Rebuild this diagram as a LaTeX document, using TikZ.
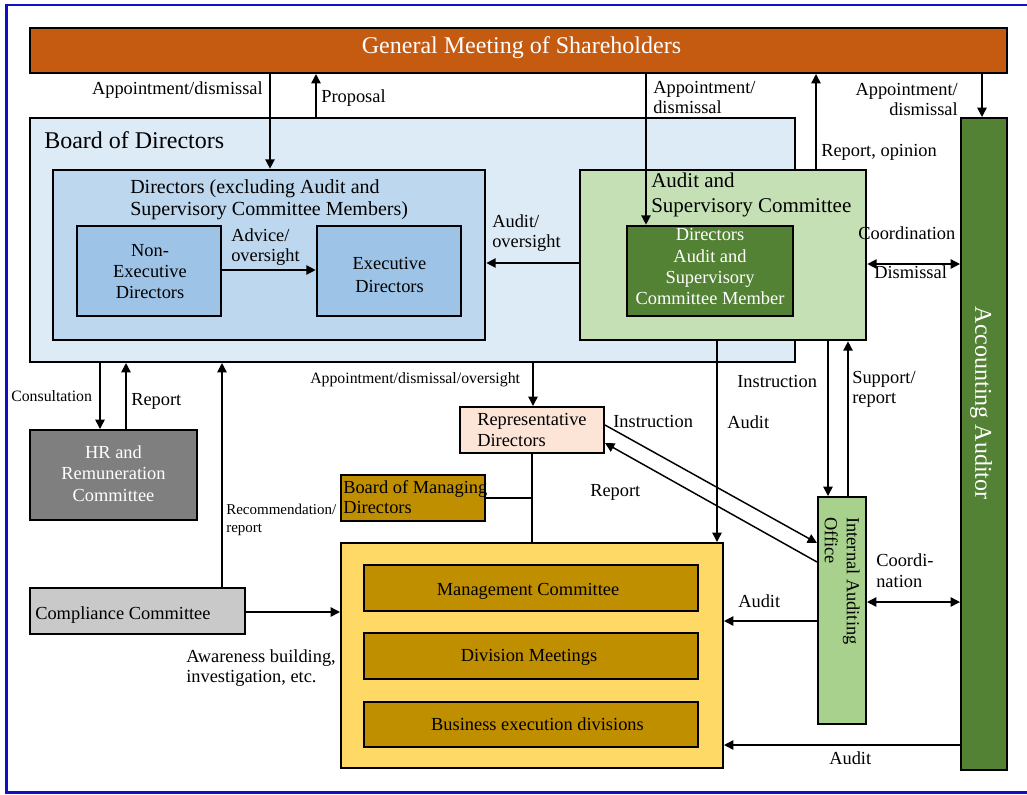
\documentclass[tikz,border=0pt]{standalone}
\usepackage{fontspec}
\setmainfont{Liberation Serif}
\usetikzlibrary{arrows.meta,fit}
\definecolor{gmc}{HTML}{C55A11}
\definecolor{boardc}{HTML}{DDEBF7}
\definecolor{dirc}{HTML}{BDD7EE}
\definecolor{nec}{HTML}{9DC3E6}
\definecolor{ascc}{HTML}{C5E0B4}
\definecolor{dgreen}{HTML}{548235}
\definecolor{hrc}{HTML}{7F7F7F}
\definecolor{compc}{HTML}{C9C9C9}
\definecolor{yelc}{HTML}{FFD966}
\definecolor{brownc}{HTML}{BF8F00}
\definecolor{repc}{HTML}{FCE4D6}
\definecolor{iaoc}{HTML}{A9D18E}
\definecolor{framec}{RGB}{15,15,200}
\newcommand\myfs[2]{\fontsize{#1}{#2}\selectfont}
\begin{document}
\begin{tikzpicture}[x=0.75pt,y=-0.75pt,
  box/.style={draw=black, line width=1.5pt, inner sep=0pt},
  tbox/.style={draw=black, line width=2pt, inner sep=0pt},
  lbl/.style={font=\myfs{13.8}{15}, inner sep=0pt, align=left},
  sml/.style={font=\myfs{11.85}{14}, inner sep=0pt, align=left},
  txt/.style={inner sep=0pt, font=\myfs{13.8}{15.75}, align=center},
  arr/.style={line width=1.1pt, -{Triangle[length=7pt,width=7pt]}},
  darr/.style={line width=1.1pt, {Triangle[length=7pt,width=7pt]}-{Triangle[length=7pt,width=7pt]}},
  ln/.style={line width=1.1pt}]
\useasboundingbox (0,0) rectangle (1027,794);
\begin{scope}
\clip (0,0) rectangle (1027,794);
\draw[framec, line width=2pt] (6.5,5) rectangle (1035,792.5);
\end{scope}

% boxes
\node[box, fill=gmc, fit={(30,28) (1007,73)}] (gm) {};
\node[inner sep=0pt, font=\myfs{18}{21}, text=white, anchor=base] (gmt) at (521.5,53) {General Meeting of Shareholders};

\node[box, fill=boardc, fit={(30,118) (795,362)}] (board) {};
\node[inner sep=0pt, font=\myfs{18}{21}, anchor=base west] (boardt) at (44,148) {Board of Directors};

\node[tbox, fill=dirc, fit={(53,170) (485,340)}] (dirs) {};
\node[inner sep=0pt, font=\myfs{15}{16.7}, align=left, anchor=north west] (dirst) at (130,179) {Directors (excluding Audit and\\Supervisory Committee Members)};

\node[tbox, fill=nec, fit={(77,226) (221,316)}] (nonexec) {};
\node[txt, anchor=north] (nonexect) at (150,244.3) {Non-\\Executive\\Directors};
\node[tbox, fill=nec, fit={(317,226) (461,316)}] (exec) {};
\node[txt, font=\myfs{13.8}{17.25}, anchor=north] (exect) at (389.5,257.3) {Executive\\Directors};

\node[tbox, fill=ascc, fit={(580,170) (866,340)}] (asc) {};
\node[inner sep=0pt, font=\myfs{15.75}{18.75}, align=left, anchor=north west] (asct) at (651,172.5) {Audit and\\Supervisory Committee};
\node[tbox, fill=dgreen, fit={(627,226) (793,316)}] (ascin) {};
\node[txt, text=white, font=\myfs{13.8}{16}, anchor=north] (ascint) at (710,228.3) {Directors\\Audit and\\Supervisory\\Committee Member};

\node[box, fill=dgreen, fit={(961,118) (1007,770)}] (aa) {};
\node[inner sep=0pt, font=\myfs{18}{21}, text=white, rotate=-90] (aat) at (981,403) {Accounting Auditor};

\node[box, fill=hrc, fit={(30,430) (197,520)}] (hr) {};
\node[txt, text=white, font=\myfs{13.8}{16.1}, anchor=north] (hrt) at (113.5,445.3) {HR and\\Remuneration\\Committee};

\node[box, fill=repc, fit={(460,407) (604,453)}] (rep) {};
\node[lbl, font=\myfs{13.8}{15.75}, anchor=north west] (rept) at (477,413.3) {Representative\\Directors};

\node[box, fill=brownc, fit={(341,475) (485,521)}] (bmd) {};
\node[lbl, anchor=north west] (bmdt) at (343,480.3) {Board of Managing\\Directors};

\node[box, fill=compc, fit={(30,588) (245,634)}] (comp) {};
\node[inner sep=0pt, font=\myfs{13.8}{15}, anchor=base west] (compt) at (35,619) {Compliance Committee};

\node[box, fill=yelc, fit={(341,543) (723,768)}] (mgmt) {};
\node[box, fill=brownc, fit={(364,565) (698,611)}] (mc) {};
\node[inner sep=0pt, font=\myfs{13.8}{15}, anchor=base] (mct) at (528,595) {Management Committee};
\node[box, fill=brownc, fit={(364,633) (698,679)}] (dm) {};
\node[inner sep=0pt, font=\myfs{13.8}{15}, anchor=base] (dmt) at (529,661) {Division Meetings};
\node[box, fill=brownc, fit={(364,702) (698,747)}] (be) {};
\node[inner sep=0pt, font=\myfs{13.8}{15}, anchor=base] (bet) at (537.5,730) {Business execution divisions};

\node[box, fill=iaoc, fit={(818,497) (866,724)}] (iao) {};
\node[inner sep=0pt, font=\myfs{13.8}{16.5}, align=left, rotate=-90, anchor=north west] (iaot) at (860,517) {Internal Auditing\\Office};

\coordinate (junc) at (532,498);

% connectors
\draw[arr] (270,0 |- gm.south) -- (270,0 |- dirs.north);
\draw[arr] (316,0 |- board.north) -- (316,0 |- gm.south);
\draw[arr] (646,0 |- gm.south) -- (646,0 |- ascin.north);
\draw[arr] (816,0 |- asc.north) -- (816,0 |- gm.south);
\draw[arr] (982,0 |- gm.south) -- (982,0 |- aa.north);
\draw[arr] (asc.west |- 0,263) -- (dirs.east |- 0,263);
\draw[arr] (nonexec.east |- 0,270) -- (exec.west |- 0,270);
\draw[darr] (asc.east |- 0,264) -- (aa.west |- 0,264);
\draw[arr] (100,0 |- board.south) -- (100,0 |- hr.north);
\draw[arr] (126,0 |- hr.north) -- (126,0 |- board.south);
\draw[arr] (222,0 |- comp.north) -- (222,0 |- board.south);
\draw[arr] (533,0 |- board.south) -- (533,0 |- rep.north);
\draw[ln] (532,0 |- rep.south) -- (532,0 |- mgmt.north);
\draw[ln] (bmd.east |- junc) -- (junc);
\draw[arr] (717,0 |- asc.south) -- (717,0 |- mgmt.north);
\draw[arr] (828,0 |- asc.south) -- (828,0 |- iao.north);
\draw[arr] (848,0 |- iao.north) -- (848,0 |- asc.south);
\draw[arr] (rep.east |- 0,425) -- (iao.west |- 0,543);
\draw[arr] (iao.west |- 0,562) -- (rep.east |- 0,443);
\draw[arr] (comp.east |- 0,612) -- (mgmt.west |- 0,612);
\draw[arr] (iao.west |- 0,621) -- (mgmt.east |- 0,621);
\draw[darr] (iao.east |- 0,602) -- (aa.west |- 0,602);
\draw[arr] (aa.west |- 0,745) -- (mgmt.east |- 0,745);

% labels
\node[lbl, anchor=base east] (l1) at (263,94) {Appointment/dismissal};
\node[lbl, anchor=base west] (l2) at (321,102) {Proposal};
\node[lbl, anchor=north west] (l3) at (653,81.5) {Appointment/\\dismissal};
\node[lbl, align=right, anchor=north east] (l4) at (958,83.5) {Appointment/\\dismissal};
\node[lbl, anchor=base west] (l5) at (821,156) {Report, opinion};
\node[lbl, anchor=north west] (l6) at (492,214) {Audit/\\oversight};
\node[lbl, anchor=north west] (l7) at (231,228) {Advice/\\oversight};
\node[lbl, anchor=base west] (l8) at (858,239) {Coordination};
\node[lbl, anchor=base west] (l9) at (874,278) {Dismissal};
\node[sml, anchor=base west] (l10) at (11,401) {Consultation};
\node[lbl, anchor=base west] (l11) at (131,405) {Report};
\node[sml, anchor=base west] (l12) at (310,383) {Appointment/dismissal/oversight};
\node[inner sep=0pt, font=\myfs{11.25}{13.5}, align=left, anchor=north west] (l13) at (226,503.7) {Recommendation/\\report};
\node[lbl, anchor=base west] (l14) at (613,427) {Instruction};
\node[lbl, anchor=base west] (l15) at (737,387) {Instruction};
\node[lbl, anchor=north west] (l16) at (852,371.5) {Support/\\report};
\node[lbl, anchor=base west] (l17) at (727,428) {Audit};
\node[lbl, anchor=base west] (l18) at (590,496) {Report};
\node[lbl, anchor=north west] (l19) at (186,649.5) {Awareness building,\\investigation, etc.};
\node[lbl, font=\myfs{13.8}{15.75}, anchor=north west] (l20) at (876,553) {Coordi-\\nation};
\node[lbl, anchor=base west] (l21) at (738,607) {Audit};
\node[lbl, anchor=base west] (l22) at (829,764) {Audit};
\end{tikzpicture}
\end{document}
